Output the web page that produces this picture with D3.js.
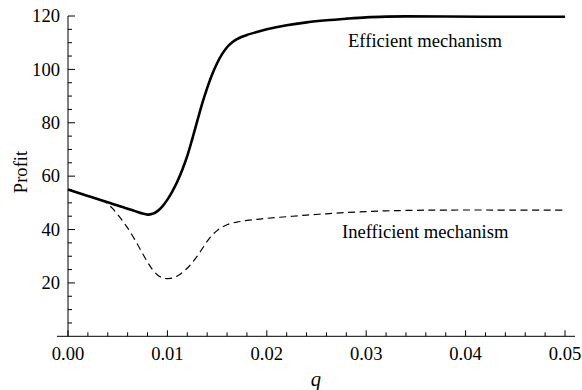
<!DOCTYPE html>
<html>
<head>
<meta charset="utf-8">
<script src="https://cdn.jsdelivr.net/npm/d3@7"></script>
<style>
  html, body { margin: 0; padding: 0; background: #fff; }
  svg { display: block; }
</style>
</head>
<body>
<div id="chart"></div>
<script>
/** profit.js
 *
 *  Profit against q for the efficient and inefficient mechanism.
 */

// q values shared by both curves
const qValues = [0, 0.002, 0.0035, 0.004, 0.0045, 0.005, 0.0055, 0.006, 0.0065, 0.007,
  0.0075, 0.008, 0.0085, 0.009, 0.0095, 0.010, 0.0105, 0.011, 0.0115, 0.012,
  0.0125, 0.013, 0.0135, 0.014, 0.0145, 0.015, 0.0155, 0.016, 0.0165, 0.017,
  0.0175, 0.018, 0.019, 0.020, 0.022, 0.024, 0.026, 0.028, 0.030, 0.032,
  0.034, 0.038, 0.045, 0.050];

const efficientProfit = [55.0, 52.6, 50.8, 50.2, 49.6, 49.0, 48.4, 47.8, 47.2, 46.6,
  46.0, 45.6, 45.9, 46.9, 48.7, 51.2, 54.3, 58.0, 62.4, 67.6,
  73.9, 80.6, 87.2, 93.0, 98.1, 102.3, 105.7, 108.3, 110.1, 111.3,
  112.2, 112.9, 114.0, 115.0, 116.5, 117.6, 118.4, 119.0, 119.5, 119.75,
  119.85, 119.8, 119.7, 119.7];

const inefficientProfit = [55.0, 52.6, 50.8, 49.6, 47.8, 45.6, 43.2, 40.6, 37.6, 34.4,
  31.0, 27.8, 25.0, 23.0, 21.9, 21.6, 21.8, 22.6, 23.9, 25.5,
  27.6, 30.0, 32.8, 35.6, 37.9, 39.6, 40.9, 41.8, 42.4, 42.8,
  43.1, 43.4, 43.8, 44.2, 44.8, 45.4, 45.9, 46.4, 46.7, 47.0,
  47.15, 47.3, 47.3, 47.3];

const xTicks = [0, 0.01, 0.02, 0.03, 0.04, 0.05];
const yTicks = [20, 40, 60, 80, 100, 120];

const width = 582;
const height = 390;
const serif = "Liberation Serif";

const drawChart = function (selector) {
  const x = d3.scaleLinear().domain([0, 0.05]).range([68, 565]);
  const y = d3.scaleLinear().domain([0, 120]).range([336.3, 16]);

  const svg = d3.select(selector).append("svg")
    .attr("width", width)
    .attr("height", height)
    .attr("font-family", serif);

  const fontSize = 18.6;

  // Axes lines, crossing at the origin
  const axes = svg.append("g")
    .attr("stroke", "#000")
    .attr("stroke-width", 1);

  axes.append("line")
    .attr("x1", 57).attr("x2", 575)
    .attr("y1", y(0)).attr("y2", y(0));

  axes.append("line")
    .attr("x1", x(0)).attr("x2", x(0))
    .attr("y1", y(0)).attr("y2", y(120));

  // Minor and major ticks, pointing inward
  const xMinor = d3.range(0, 0.0501, 0.002);
  axes.selectAll(".xtick")
    .data(xMinor)
    .join("line")
    .attr("class", "xtick")
    .attr("x1", d => x(d)).attr("x2", d => x(d))
    .attr("y1", y(0))
    .attr("y2", (d, i) => y(0) - (i % 5 === 0 ? 6 : 4));

  const yMinor = d3.range(5, 120.1, 5);
  axes.selectAll(".ytick")
    .data(yMinor)
    .join("line")
    .attr("class", "ytick")
    .attr("y1", d => y(d)).attr("y2", d => y(d))
    .attr("x1", x(0))
    .attr("x2", (d, i) => x(0) + ((i + 1) % 4 === 0 ? 7 : 4));

  // Tick labels
  svg.append("g")
    .attr("font-size", fontSize)
    .attr("text-anchor", "middle")
    .selectAll("text")
    .data(xTicks)
    .join("text")
    .attr("x", d => x(d))
    .attr("y", 360)
    .text(d => d3.format(".2f")(d));

  svg.append("g")
    .attr("font-size", fontSize)
    .attr("text-anchor", "end")
    .selectAll("text")
    .data(yTicks)
    .join("text")
    .attr("x", 60)
    .attr("y", d => y(d))
    .attr("dy", "0.33em")
    .text(d => d);

  // Axis titles
  svg.append("text")
    .attr("font-size", fontSize)
    .attr("text-anchor", "middle")
    .attr("transform", "translate(27,172) rotate(-90)")
    .text("Profit");

  svg.append("text")
    .attr("font-size", fontSize + 2)
    .attr("font-style", "italic")
    .attr("text-anchor", "middle")
    .attr("x", 316)
    .attr("y", 386)
    .text("q");

  // Curves
  const line = series => d3.line()
    .x((d, i) => x(qValues[i]))
    .y(d => y(d))
    .curve(d3.curveCatmullRom.alpha(0.5))(series);

  svg.append("path")
    .attr("d", line(inefficientProfit))
    .attr("fill", "none")
    .attr("stroke", "#000")
    .attr("stroke-width", 1.2)
    .attr("stroke-dasharray", "7,4.5");

  svg.append("path")
    .attr("d", line(efficientProfit))
    .attr("fill", "none")
    .attr("stroke", "#000")
    .attr("stroke-width", 2.6);

  // Curve labels
  svg.append("text")
    .attr("font-size", fontSize)
    .attr("x", 348)
    .attr("y", 47)
    .text("Efficient mechanism");

  svg.append("text")
    .attr("font-size", fontSize)
    .attr("x", 342)
    .attr("y", 238)
    .text("Inefficient mechanism");
};

(function () {
  drawChart("#chart");
})();
</script>
</body>
</html>
